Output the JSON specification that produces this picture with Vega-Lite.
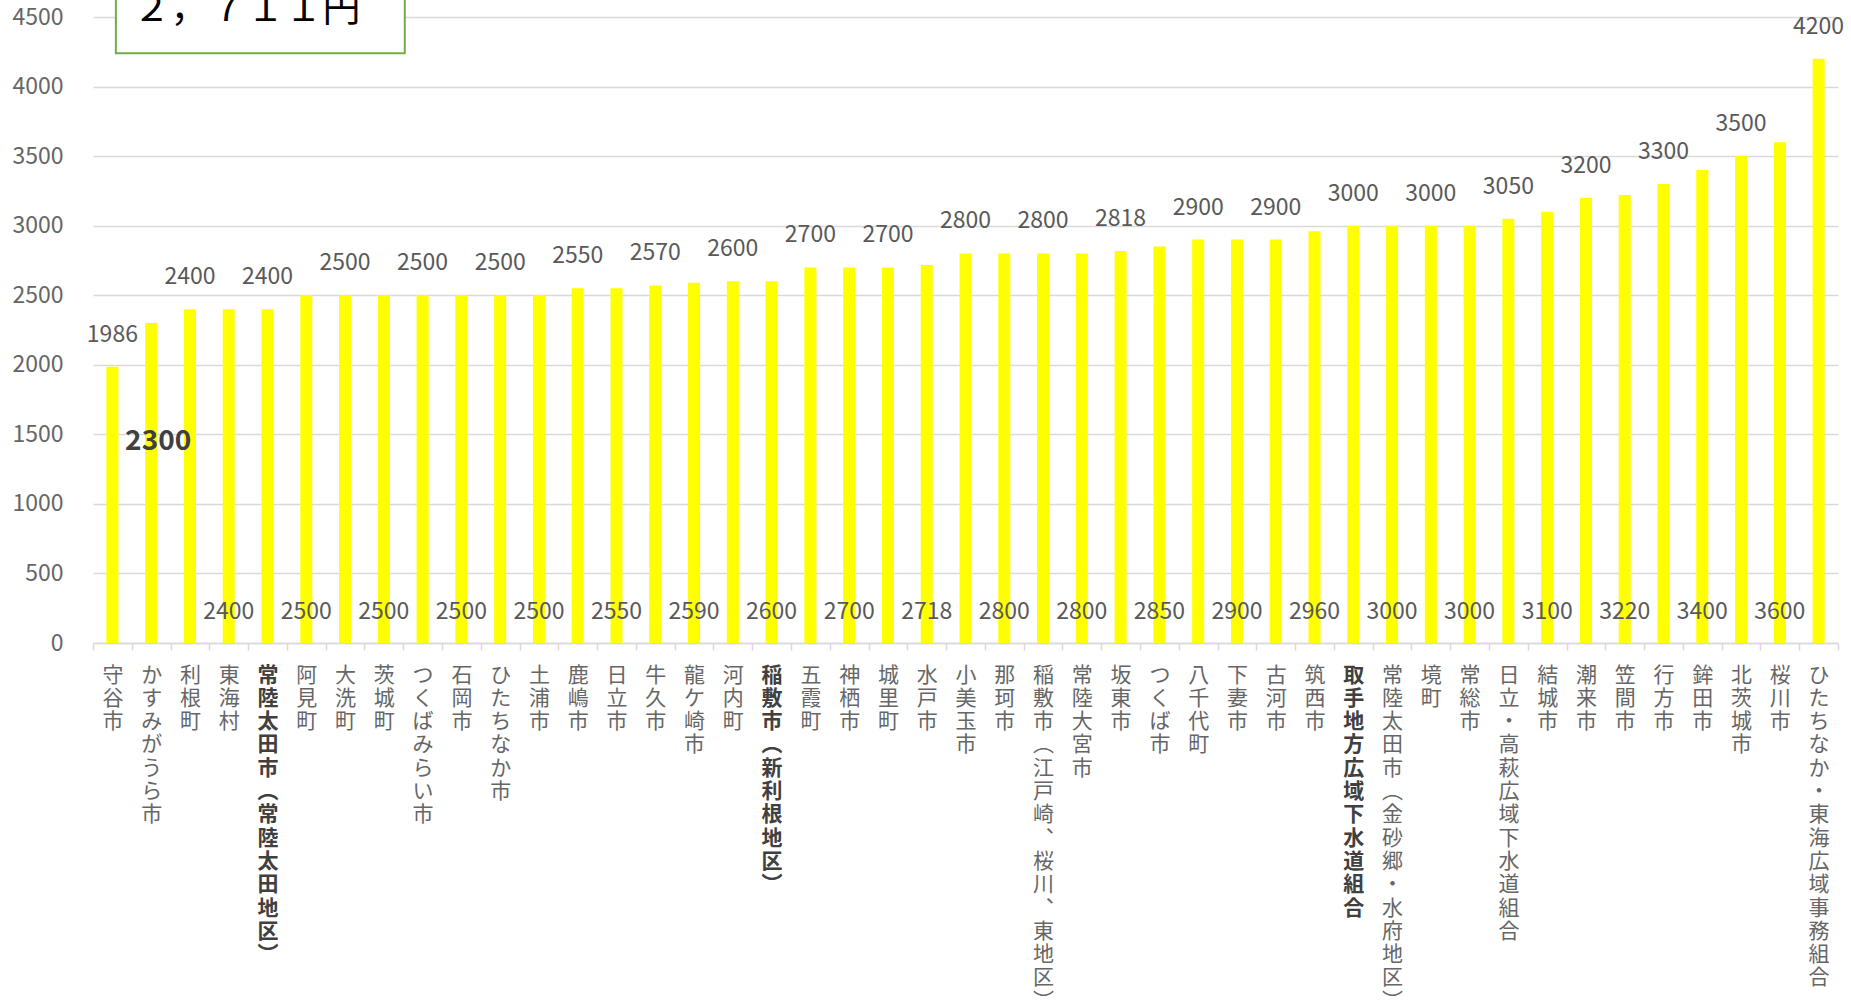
{
  "$schema": "https://vega.github.io/schema/vega-lite/v6.json",
  "width": 1745,
  "height": 626,
  "autosize": {"type": "none"},
  "padding": {"left": 93, "top": 17, "right": 13, "bottom": 364},
  "background": "white",
  "config": {"font": "Noto Sans CJK JP", "view": {"stroke": null}},
  "datasets": {
    "fees": [
      {"name": "守谷市", "value": 1986},
      {"name": "かすみがうら市", "value": 2300},
      {"name": "利根町", "value": 2400},
      {"name": "東海村", "value": 2400},
      {"name": "常陸太田市（常陸太田地区）", "value": 2400},
      {"name": "阿見町", "value": 2500},
      {"name": "大洗町", "value": 2500},
      {"name": "茨城町", "value": 2500},
      {"name": "つくばみらい市", "value": 2500},
      {"name": "石岡市", "value": 2500},
      {"name": "ひたちなか市", "value": 2500},
      {"name": "土浦市", "value": 2500},
      {"name": "鹿嶋市", "value": 2550},
      {"name": "日立市", "value": 2550},
      {"name": "牛久市", "value": 2570},
      {"name": "龍ケ崎市", "value": 2590},
      {"name": "河内町", "value": 2600},
      {"name": "稲敷市（新利根地区）", "value": 2600},
      {"name": "五霞町", "value": 2700},
      {"name": "神栖市", "value": 2700},
      {"name": "城里町", "value": 2700},
      {"name": "水戸市", "value": 2718},
      {"name": "小美玉市", "value": 2800},
      {"name": "那珂市", "value": 2800},
      {"name": "稲敷市（江戸崎、桜川、東地区）", "value": 2800},
      {"name": "常陸大宮市", "value": 2800},
      {"name": "坂東市", "value": 2818},
      {"name": "つくば市", "value": 2850},
      {"name": "八千代町", "value": 2900},
      {"name": "下妻市", "value": 2900},
      {"name": "古河市", "value": 2900},
      {"name": "筑西市", "value": 2960},
      {"name": "取手地方広域下水道組合", "value": 3000},
      {"name": "常陸太田市（金砂郷・水府地区）", "value": 3000},
      {"name": "境町", "value": 3000},
      {"name": "常総市", "value": 3000},
      {"name": "日立・高萩広域下水道組合", "value": 3050},
      {"name": "結城市", "value": 3100},
      {"name": "潮来市", "value": 3200},
      {"name": "笠間市", "value": 3220},
      {"name": "行方市", "value": 3300},
      {"name": "鉾田市", "value": 3400},
      {"name": "北茨城市", "value": 3500},
      {"name": "桜川市", "value": 3600},
      {"name": "ひたちなか・東海広域事務組合", "value": 4200}
    ],
    "note": [{"label": "２，７１１円"}]
  },
  "layer": [
    {
      "data": {"name": "fees"},
      "mark": {"type": "bar", "color": "#FFFF00", "width": {"band": 0.31}},
      "encoding": {
        "x": {
          "field": "name", "type": "nominal", "sort": null,
          "scale": {"paddingInner": 0, "paddingOuter": 0},
          "axis": {
            "title": null,
            "labelAngle": 0,
            "labelAlign": "center",
            "labelBaseline": "top",
            "labelExpr": "split(replace(replace(replace(datum.label, '（', '︵'), '）', '︶'), regexp('、', 'g'), '︑'), '')",
            "labelFontSize": 21,
            "labelLineHeight": 23.3,
            "labelColor": {"condition": {"test": "datum.value == '常陸太田市（常陸太田地区）' || datum.value == '稲敷市（新利根地区）' || datum.value == '取手地方広域下水道組合'", "value": "#404040"}, "value": "#666666"},
            "labelFontWeight": {"condition": {"test": "datum.value == '常陸太田市（常陸太田地区）' || datum.value == '稲敷市（新利根地区）' || datum.value == '取手地方広域下水道組合'", "value": "bold"}, "value": "normal"},
            "labelPadding": 14,
            "labelOverlap": false,
            "labelLimit": 0,
            "labelBound": false,
            "tickBand": "extent",
            "tickColor": "#d9d9d9",
            "tickSize": 7,
            "tickWidth": 1.5,
            "domainColor": "#d9d9d9",
            "domainWidth": 1.5,
            "grid": false
          }
        },
        "y": {
          "field": "value", "type": "quantitative",
          "scale": {"domain": [0, 4500], "nice": false},
          "axis": {
            "title": null,
            "values": [0, 500, 1000, 1500, 2000, 2500, 3000, 3500, 4000, 4500],
            "format": "d",
            "domain": false,
            "ticks": false,
            "tickSize": 0,
            "labelFontSize": 23,
            "labelColor": "#666666",
            "labelPadding": 30,
            "gridColor": "#d9d9d9",
            "gridWidth": 1.5
          }
        }
      }
    },
    {
      "data": {"name": "fees"},
      "transform": [{"window": [{"op": "row_number", "as": "i"}]}, {"filter": "datum.i % 2 == 1"}],
      "mark": {"type": "text", "baseline": "alphabetic", "dy": -25, "fontSize": 23, "color": "#595959"},
      "encoding": {
        "x": {"field": "name", "type": "nominal", "sort": null},
        "y": {"field": "value", "type": "quantitative"},
        "text": {"field": "value", "type": "quantitative", "format": "d"}
      }
    },
    {
      "data": {"name": "fees"},
      "transform": [{"window": [{"op": "row_number", "as": "i"}]}, {"filter": "datum.i % 2 == 0 && datum.i > 2"}],
      "mark": {"type": "text", "baseline": "alphabetic", "dy": -24, "fontSize": 23, "color": "#595959"},
      "encoding": {
        "x": {"field": "name", "type": "nominal", "sort": null},
        "y": {"datum": 0, "type": "quantitative"},
        "text": {"field": "value", "type": "quantitative", "format": "d"}
      }
    },
    {
      "data": {"name": "fees"},
      "transform": [{"window": [{"op": "row_number", "as": "i"}]}, {"filter": "datum.i == 2"}],
      "mark": {"type": "text", "baseline": "middle", "dx": 7, "fontSize": 28, "fontWeight": "bold", "color": "#404040"},
      "encoding": {
        "x": {"field": "name", "type": "nominal", "sort": null},
        "y": {"datum": 1444, "type": "quantitative"},
        "text": {"field": "value", "type": "quantitative", "format": "d"}
      }
    },
    {
      "data": {"name": "note"},
      "mark": {"type": "rect", "fill": "white", "stroke": "#70AD47", "strokeWidth": 2},
      "encoding": {
        "x": {"datum": "守谷市", "type": "nominal", "bandPosition": 0.59},
        "x2": {"datum": "つくばみらい市", "bandPosition": 0.04},
        "y": {"datum": 4240, "type": "quantitative"},
        "y2": {"datum": 4900}
      }
    },
    {
      "data": {"name": "note"},
      "mark": {"type": "text", "align": "left", "baseline": "alphabetic", "fontSize": 38, "color": "#000000"},
      "encoding": {
        "x": {"datum": "かすみがうら市", "type": "nominal", "bandPosition": 0.02},
        "y": {"datum": 4470, "type": "quantitative"},
        "text": {"field": "label"}
      }
    }
  ]
}
